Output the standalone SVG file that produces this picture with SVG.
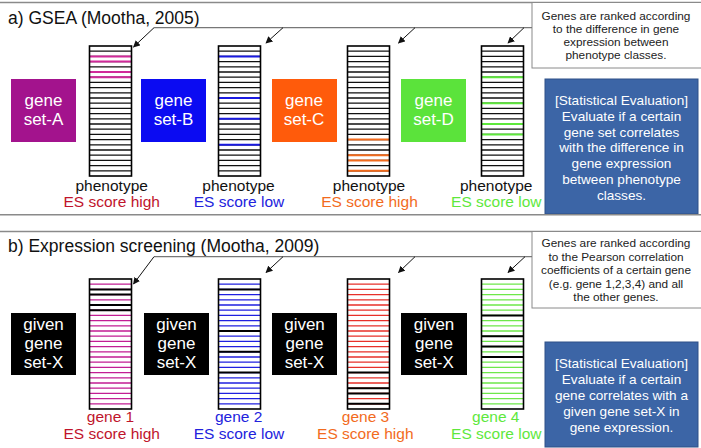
<svg xmlns="http://www.w3.org/2000/svg" xmlns:xlink="http://www.w3.org/1999/xlink" width="701" height="448" viewBox="0 0 701 448">
<style>
text{font-family:"Liberation Sans",Arial,sans-serif}
.ttl{font-size:17.5px;fill:#111}
.box{font-size:17px;fill:#fff;text-anchor:middle}
.lbl{font-size:15.5px;text-anchor:middle}
.note{font-size:11.8px;fill:#222;text-anchor:middle}
.eval{font-size:13.6px;fill:#fff;text-anchor:middle}
.sep{stroke:#8a8a8a;stroke-width:1.5;fill:none}
.callout{fill:#fff;stroke:#8a8a8a;stroke-width:1}
.evalbox{fill:#3c65a6;stroke:#2f5087;stroke-width:1}
.bg{fill:#fff}
.frame{fill:none;stroke:#000;stroke-width:1.6}
.gk{stroke:#111;stroke-width:1.3;fill:none}
.gkb{stroke:#000;stroke-width:2;fill:none}
.lead{stroke:#777;stroke-width:1.2;fill:none}
.arr{stroke:#111;stroke-width:1;fill:none;marker-end:url(#ah)}
.cA{fill:#a3138d}.cB{fill:#0b0bf2}.cC{fill:#ff5b0b}.cD{fill:#5be33b}.cX{fill:#000}
.tR{fill:#c0142c}.tB{fill:#2222dd}.tO{fill:#f26b1d}.tG{fill:#5ee83c}.tK{fill:#111}
.sA{stroke:#d12a9a;stroke-width:2;fill:none}
.sB{stroke:#1a1ae0;stroke-width:2;fill:none}
.sC{stroke:#f26b1d;stroke-width:2;fill:none}
.sD{stroke:#5ee83c;stroke-width:2;fill:none}
.s1{stroke:#c21e94;stroke-width:1.3;fill:none}
.s2{stroke:#2020e0;stroke-width:1.3;fill:none}
.s3{stroke:#e8302a;stroke-width:1.3;fill:none}
.s4{stroke:#6ee84a;stroke-width:1.3;fill:none}
</style>
<defs>
<marker id="ah" viewBox="0 0 10 10" refX="9" refY="5" markerWidth="7" markerHeight="7" orient="auto" markerUnits="userSpaceOnUse">
<path d="M0 0L10 5L0 10z" fill="#111"/>
</marker>
<path id="grid" d="M0 5.2h42M0 10.4h42M0 15.6h42M0 20.8h42M0 26h42M0 31.2h42M0 36.4h42M0 41.6h42M0 46.8h42M0 52h42M0 57.2h42M0 62.4h42M0 67.6h42M0 72.8h42M0 78h42M0 83.2h42M0 88.4h42M0 93.6h42M0 98.8h42M0 104h42M0 109.2h42M0 114.4h42M0 119.6h42M0 124.8h42"/>
</defs>
<rect width="701" height="448" fill="#fff"/>

<!-- panel frames / separators -->
<g id="panels">
<line class="sep" x1="0" y1="2.5" x2="701" y2="2.5"/>
<line class="sep" x1="0" y1="231.5" x2="701" y2="231.5"/>
</g>

<!-- titles -->
<text id="title-a" class="ttl" x="8" y="23.5">a) GSEA (Mootha, 2005)</text>
<text id="title-b" class="ttl" x="8" y="251.5">b) Expression screening (Mootha, 2009)</text>

<!-- callouts -->
<g id="note-a">
<rect class="callout" x="532" y="2.5" width="172" height="65.5"/>
<text class="note" x="616" y="19.5">Genes are ranked according</text>
<text class="note" x="616" y="32.8">to the difference in gene</text>
<text class="note" x="616" y="46.1">expression between</text>
<text class="note" x="616" y="59.4">phenotype classes.</text>
</g>
<g id="note-b">
<rect class="callout" x="532" y="231.5" width="172" height="76.5"/>
<text class="note" x="616" y="247">Genes are ranked according</text>
<text class="note" x="616" y="260.5">to the Pearson correlation</text>
<text class="note" x="616" y="274">coefficients of a certain gene</text>
<text class="note" x="616" y="287.5">(e.g. gene 1,2,3,4) and all</text>
<text class="note" x="616" y="301">the other genes.</text>
</g>

<!-- evaluation boxes -->
<g id="eval-a">
<rect class="evalbox" x="545" y="79" width="153" height="135"/>
<text class="eval" x="621.5" y="105">[Statistical Evaluation]</text>
<text class="eval" x="621.5" y="120.8">Evaluate if a certain</text>
<text class="eval" x="621.5" y="136.6">gene set correlates</text>
<text class="eval" x="621.5" y="152.4">with the difference in</text>
<text class="eval" x="621.5" y="168.2">gene expression</text>
<text class="eval" x="621.5" y="184">between phenotype</text>
<text class="eval" x="621.5" y="199.8">classes.</text>
</g>
<g id="eval-b">
<rect class="evalbox" x="545" y="342" width="153" height="105"/>
<text class="eval" x="621.5" y="368.3">[Statistical Evaluation]</text>
<text class="eval" x="621.5" y="384.1">Evaluate if a certain</text>
<text class="eval" x="621.5" y="399.9">gene correlates with a</text>
<text class="eval" x="621.5" y="415.7">given gene set-X in</text>
<text class="eval" x="621.5" y="431.5">gene expression.</text>
</g>

<line class="sep" x1="0" y1="214.8" x2="701" y2="214.8"/>

<!-- gene set boxes (a) -->
<g id="set-A"><rect class="cA" x="11" y="79" width="65" height="63"/><text class="box"><tspan x="43.5" y="106">gene</tspan><tspan x="43.5" y="125">set-A</tspan></text></g>
<g id="set-B"><rect class="cB" x="141" y="79" width="65" height="63"/><text class="box"><tspan x="173.5" y="106">gene</tspan><tspan x="173.5" y="125">set-B</tspan></text></g>
<g id="set-C"><rect class="cC" x="272" y="79" width="65" height="63"/><text class="box"><tspan x="304" y="106">gene</tspan><tspan x="304" y="125">set-C</tspan></text></g>
<g id="set-D"><rect class="cD" x="401" y="79" width="65" height="63"/><text class="box"><tspan x="433.5" y="106">gene</tspan><tspan x="433.5" y="125">set-D</tspan></text></g>

<!-- ranked lists (a) -->
<g id="rank-A" transform="translate(89.5,46)"><rect class="bg" width="42" height="130"/><use href="#grid" class="gk"/><path class="sA" d="M0 10.4h42M0 15.6h42M0 26h42M0 31.2h42"/><rect class="frame" width="42" height="130"/></g>
<g id="rank-B" transform="translate(218.5,46)"><rect class="bg" width="42" height="130"/><use href="#grid" class="gk"/><path class="sB" d="M0 10.4h42M0 52h42M0 72.8h42M0 98.8h42"/><rect class="frame" width="42" height="130"/></g>
<g id="rank-C" transform="translate(347.5,46)"><rect class="bg" width="42" height="130"/><use href="#grid" class="gk"/><path class="sC" d="M0 93.6h42M0 109.2h42M0 114.4h42M0 124.8h42"/><rect class="frame" width="42" height="130"/></g>
<g id="rank-D" transform="translate(481.5,46)"><rect class="bg" width="42" height="130"/><use href="#grid" class="gk"/><path class="sD" d="M0 31.2h42M0 57.2h42M0 78h42M0 88.4h42"/><rect class="frame" width="42" height="130"/></g>

<!-- labels (a) -->
<g id="label-A"><text class="lbl tK" x="111.7" y="190.5">phenotype</text><text class="lbl tR" x="111.7" y="207">ES score high</text></g>
<g id="label-B"><text class="lbl tK" x="238.5" y="190.5">phenotype</text><text class="lbl tB" x="239" y="207">ES score low</text></g>
<g id="label-C"><text class="lbl tK" x="369" y="190.5">phenotype</text><text class="lbl tO" x="369.5" y="207">ES score high</text></g>
<g id="label-D"><text class="lbl tK" x="496.2" y="190.5">phenotype</text><text class="lbl tG" x="496.3" y="207">ES score low</text></g>

<!-- given gene set boxes (b) -->
<g id="given-1"><rect class="cX" x="11" y="313" width="65" height="62"/><text class="box"><tspan x="43.5" y="330">given</tspan><tspan x="43.5" y="349">gene</tspan><tspan x="43.5" y="368">set-X</tspan></text></g>
<g id="given-2"><rect class="cX" x="144" y="313" width="65" height="62"/><text class="box"><tspan x="176.5" y="330">given</tspan><tspan x="176.5" y="349">gene</tspan><tspan x="176.5" y="368">set-X</tspan></text></g>
<g id="given-3"><rect class="cX" x="272" y="313" width="65" height="62"/><text class="box"><tspan x="304.5" y="330">given</tspan><tspan x="304.5" y="349">gene</tspan><tspan x="304.5" y="368">set-X</tspan></text></g>
<g id="given-4"><rect class="cX" x="401" y="313" width="66" height="62"/><text class="box"><tspan x="434" y="330">given</tspan><tspan x="434" y="349">gene</tspan><tspan x="434" y="368">set-X</tspan></text></g>

<!-- ranked lists (b) -->
<g id="rank-1" transform="translate(89.5,279)"><rect class="bg" width="42" height="130"/><use href="#grid" class="s1"/><path class="gkb" d="M0 10.4h42M0 15.6h42M0 26h42M0 31.2h42"/><rect class="frame" width="42" height="130"/></g>
<g id="rank-2" transform="translate(218.5,279)"><rect class="bg" width="42" height="130"/><use href="#grid" class="s2"/><path class="gkb" d="M0 10.4h42M0 52h42M0 72.8h42M0 93.6h42"/><rect class="frame" width="42" height="130"/></g>
<g id="rank-3" transform="translate(347.5,279)"><rect class="bg" width="42" height="130"/><use href="#grid" class="s3"/><path class="gkb" d="M0 93.6h42M0 109.2h42M0 114.4h42M0 124.8h42"/><rect class="frame" width="42" height="130"/></g>
<g id="rank-4" transform="translate(481.5,279)"><rect class="bg" width="42" height="130"/><use href="#grid" class="s4"/><path class="gkb" d="M0 36.4h42M0 57.2h42M0 67.6h42M0 78h42"/><rect class="frame" width="42" height="130"/></g>

<!-- labels (b) -->
<g id="label-1"><text class="lbl tR" x="110.5" y="422.3">gene 1</text><text class="lbl tR" x="111.7" y="439.3">ES score high</text></g>
<g id="label-2"><text class="lbl tB" x="238.7" y="422.3">gene 2</text><text class="lbl tB" x="239" y="439.3">ES score low</text></g>
<g id="label-3"><text class="lbl tO" x="365.5" y="422.3">gene 3</text><text class="lbl tO" x="365.3" y="439.3">ES score high</text></g>
<g id="label-4"><text class="lbl tG" x="495.8" y="422.3">gene 4</text><text class="lbl tG" x="496.3" y="439.3">ES score low</text></g>

<!-- connectors -->
<g id="connectors">
<line class="lead" x1="154" y1="27.7" x2="532" y2="27.7"/>
<line class="arr" x1="154" y1="27.7" x2="133.5" y2="47"/>
<line class="arr" x1="283" y1="27.7" x2="266" y2="43"/>
<line class="arr" x1="415" y1="27.7" x2="398.5" y2="43"/>
<line class="arr" x1="524" y1="27.7" x2="508" y2="43"/>
<line class="lead" x1="154" y1="256.7" x2="532" y2="256.7"/>
<line class="arr" x1="154" y1="256.7" x2="133.5" y2="284"/>
<line class="arr" x1="283" y1="256.7" x2="266" y2="272.5"/>
<line class="arr" x1="415" y1="256.7" x2="398.5" y2="272.5"/>
<line class="arr" x1="525" y1="256.7" x2="508" y2="272.5"/>
</g>
</svg>
